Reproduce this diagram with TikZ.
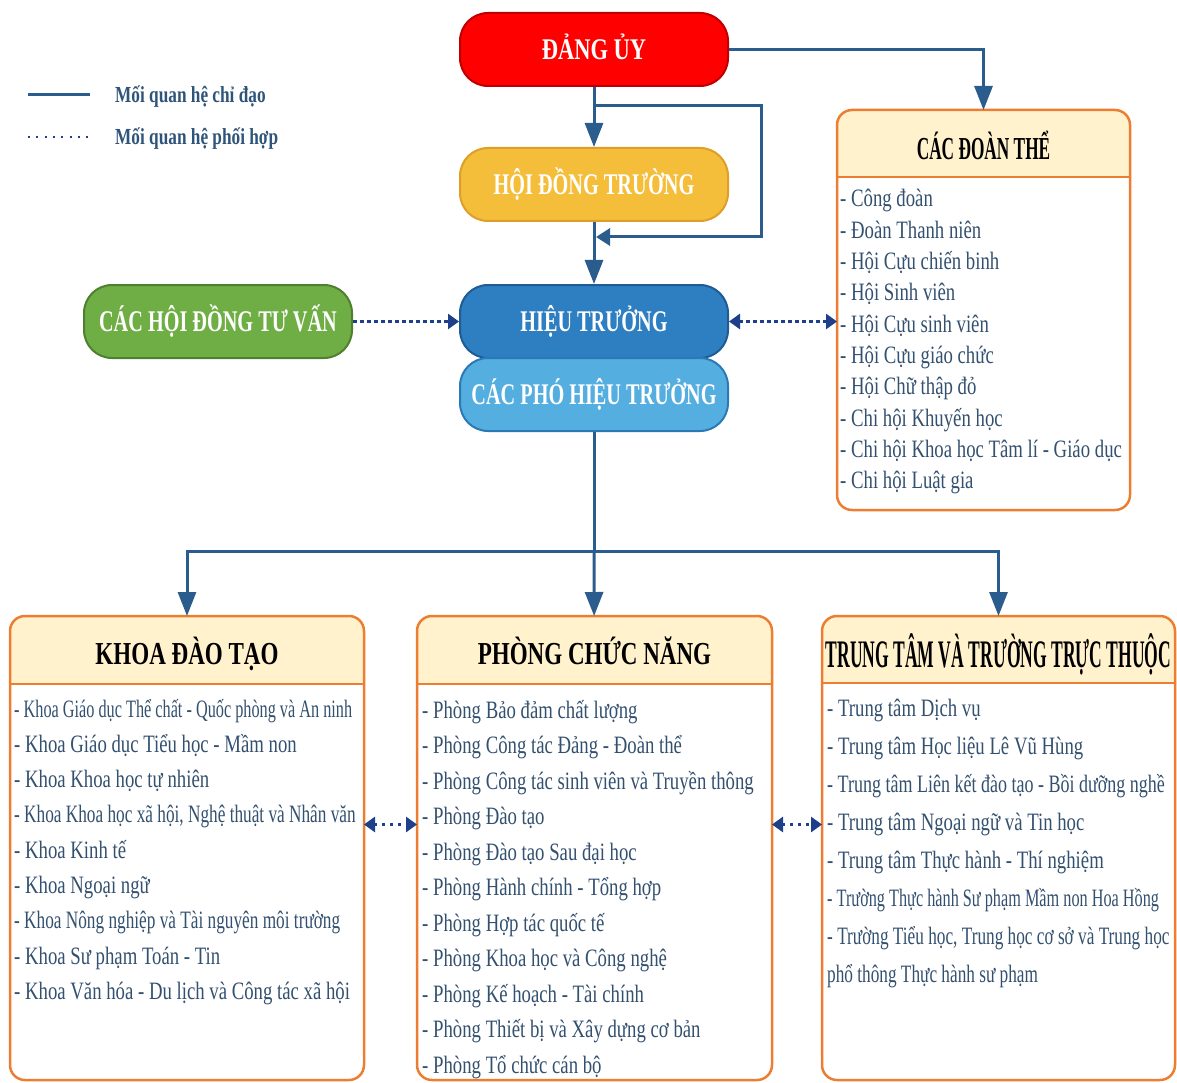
\documentclass[tikz,border=0pt]{standalone}
\usepackage{fontspec}
\setmainfont{Liberation Serif}[FakeStretch=0.75]
\newfontfamily\narrowfont{Liberation Serif}[FakeStretch=0.65]
\newfontfamily\slimfont{Liberation Serif}[FakeStretch=0.69]
\newfontfamily\headfont{Liberation Serif}[FakeStretch=0.72]
\newfontfamily\tightfont{Liberation Serif}[FakeStretch=0.54]
\newfontfamily\squeezefont{Liberation Serif}[FakeStretch=0.45]
\newfontfamily\boxfont{Liberation Serif}[FakeStretch=0.675]
\usetikzlibrary{arrows.meta,positioning}
\definecolor{linkblue}{HTML}{2B5C8E}
\definecolor{navy}{HTML}{1E3F8A}
\definecolor{itemblue}{HTML}{33506F}
\definecolor{legendblue}{HTML}{2F5479}
\definecolor{partyred}{HTML}{FF0000}
\definecolor{partyedge}{HTML}{C00000}
\definecolor{gold}{HTML}{F5BE3A}
\definecolor{goldedge}{HTML}{DE9E2A}
\definecolor{mainblue}{HTML}{2E7EC2}
\definecolor{mainedge}{HTML}{1E5C93}
\definecolor{skyblue}{HTML}{55AEE0}
\definecolor{skyedge}{HTML}{2C7AB5}
\definecolor{leafgreen}{HTML}{6FAE45}
\definecolor{leafedge}{HTML}{4F8030}
\definecolor{panelorange}{HTML}{ED7D31}
\definecolor{headyellow}{HTML}{FFF2CC}
\tikzset{
    %Define standard arrow tip
    >={Triangle[length=24pt,width=18pt]},
    %Define style for the coloured boxes
    khoi/.style={
           rectangle,
           rounded corners=28pt,
           line width=2pt,
           minimum width=268pt,
           minimum height=73pt,
           inner sep=0pt,
           text=white,
           text height=20pt, text depth=0pt,
           font=\boxfont\bfseries\fontsize{30}{30}\selectfont},
    % Define style for the list panels
    bang/.style={rectangle, inner sep=0pt, outer sep=0pt},
    vien/.style={draw=panelorange, line width=2.5pt},
    tieude/.style={inner sep=0pt, text=black, text height=21pt, text depth=0pt,
           font=\headfont\bfseries\fontsize{32}{32}\selectfont},
    muc/.style={anchor=base west, inner sep=0pt, text=itemblue,
           font=\fontsize{25}{25}\selectfont},
    chuthich/.style={anchor=west, inner sep=0pt, text=legendblue,
           text height=15pt, text depth=0pt,
           font=\bfseries\fontsize{23}{23}\selectfont},
    % Define arrow styles
    chidao/.style={
	   ->,
	   line width=3pt,
	   draw=linkblue},
    phoihop/.style={
	   -{Triangle[length=11pt,width=15pt]},
	   line width=3pt,
	   dash pattern=on 4pt off 3pt,
	   draw=navy},
    haichieu/.style={{Triangle[length=11pt,width=15pt]}-{Triangle[length=11pt,width=15pt]}}
}

\begin{document}
\begin{tikzpicture}[x=1pt,y=-1pt]
  \useasboundingbox (0,0) rectangle (1177,1083);
  % legend
  \node[chuthich] (cd) at (115,95) {Mối quan hệ chỉ đạo};
  \node[chuthich] (ph) at (115,137) {Mối quan hệ phối hợp};
  \draw[linkblue, line width=3pt] ([xshift=-87pt]cd.west) -- ([xshift=-25pt]cd.west);
  \draw[navy, line width=2.5pt, dash pattern=on 2pt off 6.3pt] ([xshift=-87pt]ph.west) -- ([xshift=-25pt]ph.west);

  % leadership boxes
  \node[khoi, fill=partyred, draw=partyedge, font=\rmfamily\bfseries\fontsize{30}{30}\selectfont] (du) at (594,49.5) {ĐẢNG ỦY};
  \node[khoi, fill=gold, draw=goldedge] (hdt) [below=60pt of du] {HỘI ĐỒNG TRƯỜNG};
  \node[khoi, fill=mainblue, draw=mainedge] (ht) [below=62pt of hdt] {HIỆU TRƯỞNG};
  \node[khoi, fill=skyblue, draw=skyedge] (pht) [below=-2pt of ht] {CÁC PHÓ HIỆU TRƯỞNG};
  \node[khoi, fill=leafgreen, draw=leafedge] (hdtv) [left=106pt of ht] {CÁC HỘI ĐỒNG TƯ VẤN};

  % panels
  \node[bang, minimum width=293pt, minimum height=400pt] (dt) at (983.5,310) {};
  \node[bang, minimum width=354pt, minimum height=464pt] (kd) at (187,848) {};
  \node[bang, minimum width=355pt, minimum height=464pt] (pcn) at (594.5,848) {};
  \node[bang, minimum width=353pt, minimum height=464pt] (tt) at (998.5,848) {};
  \foreach \p/\h in {dt/67,kd/68,pcn/68,tt/67} {
    \begin{scope}
      \clip[rounded corners=15pt] (\p.north west) rectangle (\p.south east);
      \fill[headyellow] (\p.north west) rectangle ([yshift=-\h pt]\p.north east);
    \end{scope}
    \draw[vien] ([yshift=-\h pt]\p.north west) -- ([yshift=-\h pt]\p.north east);
    \draw[vien, rounded corners=15pt] (\p.north west) rectangle (\p.south east);
  }
  \node[tieude, font=\tightfont\bfseries\fontsize{32}{32}\selectfont] (dt-t) at ([yshift=-39pt]dt.north) {CÁC ĐOÀN THỂ};
  \node[tieude] (kd-t) at ([yshift=-38pt]kd.north) {KHOA ĐÀO TẠO};
  \node[tieude] (pcn-t) at ([yshift=-38pt]pcn.north) {PHÒNG CHỨC NĂNG};
  \node[tieude, text height=26pt, font=\squeezefont\bfseries\fontsize{39}{39}\selectfont] (tt-t) at ([yshift=-38pt]tt.north) {TRUNG TÂM VÀ TRƯỜNG TRỰC THUỘC};

  % lists
  \foreach \txt [count=\i] in {- Công đoàn, - Đoàn Thanh niên, - Hội Cựu chiến binh,
      - Hội Sinh viên, - Hội Cựu sinh viên, - Hội Cựu giáo chức, - Hội Chữ thập đỏ,
      - Chi hội Khuyến học, - Chi hội Khoa học Tâm lí - Giáo dục, - Chi hội Luật gia}
    \node[muc] (dt-\i) at (840,{207+31.3*(\i-1)}) {\txt};
  \foreach \txt [count=\i] in {{\narrowfont - Khoa Giáo dục Thể chất - Quốc phòng và An ninh},
      - Khoa Giáo dục Tiểu học - Mầm non, - Khoa Khoa học tự nhiên,
      {\slimfont - Khoa Khoa học xã hội, Nghệ thuật và Nhân văn}, - Khoa Kinh tế,
      - Khoa Ngoại ngữ, {\slimfont - Khoa Nông nghiệp và Tài nguyên môi trường},
      - Khoa Sư phạm Toán - Tin, - Khoa Văn hóa - Du lịch và Công tác xã hội}
    \node[muc] (kd-\i) at (14,{717+35.3*(\i-1)}) {\txt};
  \foreach \txt [count=\i] in {- Phòng Bảo đảm chất lượng, - Phòng Công tác Đảng - Đoàn thể,
      - Phòng Công tác sinh viên và Truyền thông, - Phòng Đào tạo,
      - Phòng Đào tạo Sau đại học, - Phòng Hành chính - Tổng hợp,
      - Phòng Hợp tác quốc tế, - Phòng Khoa học và Công nghệ,
      - Phòng Kế hoạch - Tài chính, - Phòng Thiết bị và Xây dựng cơ bản,
      - Phòng Tổ chức cán bộ}
    \node[muc] (pcn-\i) at (422,{718+35.5*(\i-1)}) {\txt};
  \foreach \txt [count=\i] in {- Trung tâm Dịch vụ, - Trung tâm Học liệu Lê Vũ Hùng,
      {\headfont - Trung tâm Liên kết đào tạo - Bồi dưỡng nghề}, - Trung tâm Ngoại ngữ và Tin học,
      - Trung tâm Thực hành - Thí nghiệm,
      {\narrowfont - Trường Thực hành Sư phạm Mầm non Hoa Hồng},
      {\slimfont - Trường Tiểu học, Trung học cơ sở và Trung học},
      {\slimfont phổ thông Thực hành sư phạm}}
    \node[muc] (tt-\i) at (827,{716+38*(\i-1)}) {\txt};

  % connectors
  \coordinate (re) at (594,106);
  \coordinate (nhap) at (596,237);
  \coordinate (chia) at (594,551);
  \draw[chidao] (du) -- (hdt);
  \draw[chidao, -{Triangle[length=14pt,width=17pt]}] (re) -- ++(167,0) |- (nhap);
  \draw[chidao] (hdt) -- (ht);
  \draw[chidao] (du) -| (dt);
  \draw[phoihop] (hdtv) -- (ht);
  \draw[phoihop, haichieu] (ht) -- (dt.west |- ht.east);
  \draw[chidao, -] (pht) -- (chia);
  \draw[chidao] (chia) -| (kd);
  \draw[chidao] (chia) -- (pcn);
  \draw[chidao] (chia) -| (tt);
  \draw[phoihop, haichieu, dash pattern=on 3pt off 5pt] (kd.east |- pcn-4.base) -- (pcn.west |- pcn-4.base);
  \draw[phoihop, haichieu, dash pattern=on 3pt off 5pt] (pcn.east |- pcn-4.base) -- (tt.west |- pcn-4.base);
\end{tikzpicture}
\end{document}
